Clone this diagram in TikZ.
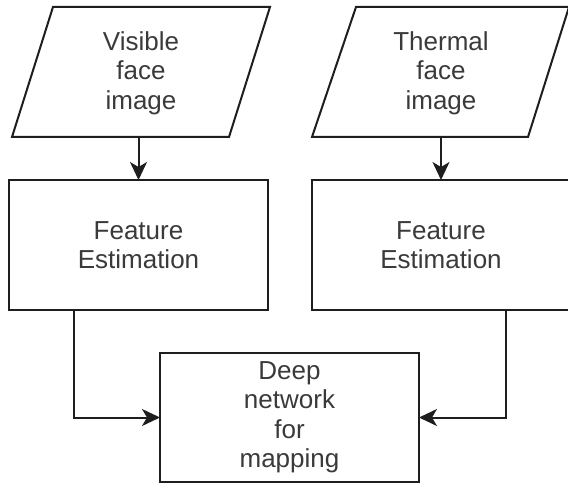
\documentclass[tikz,border=0pt]{standalone}
\usepackage{fontspec}
\setmainfont{Liberation Sans}
\usetikzlibrary{arrows.meta,calc}
\definecolor{txt}{HTML}{3A3A3A}
\definecolor{ln}{HTML}{1E1E1E}
\begin{document}
\begin{tikzpicture}[x=1pt,y=-1pt,
  lbl/.style={inner sep=0pt, outer sep=0pt, align=center, text=txt,
    font=\fontsize{26}{29.5}\selectfont},
  boxnode/.style={lbl, draw=ln, line width=2pt, fill=white},
  paraedge/.style={draw=ln, line width=2pt, line join=miter},
  arr/.style={draw=ln, line width=2pt, -{Stealth[length=18pt,width=17pt,inset=5pt]}}]
\useasboundingbox (0,0) rectangle (568,484);
% parallelograms
\draw[paraedge] (53,7) -- (270,7) -- (229,137) -- (12,137) -- cycle;
\node[lbl, minimum width=170, minimum height=130] (vis) at (141,73) {Visible\\face\\image};
\draw[paraedge] (356,7) -- (569,7) -- (528,137) -- (312,137) -- cycle;
\node[lbl, minimum width=170, minimum height=130] (thr) at (441,73) {Thermal\\face\\image};
% feature boxes
\node[boxnode, minimum width=259, minimum height=130] (fe1) at (138.5,245) {Feature\\Estimation};
\node[boxnode, minimum width=259, minimum height=130] (fe2) at (441,245) {Feature\\Estimation};
% deep network box
\node[boxnode, minimum width=259, minimum height=129] (deep) at (289.5,417.5) {Deep\\network\\for\\mapping};
% connectors
\draw[arr] (vis.south -| fe1.north) -- (fe1.north);
\draw[arr] (thr.south -| fe2.north) -- (fe2.north);
\coordinate (l1) at ($(fe1.south west)!0.25!(fe1.south east)$);
\coordinate (r1) at ($(fe2.south west)!0.75!(fe2.south east)$);
\draw[arr] (l1) |- (deep.west);
\draw[arr] (r1) |- (deep.east);
\end{tikzpicture}
\end{document}
